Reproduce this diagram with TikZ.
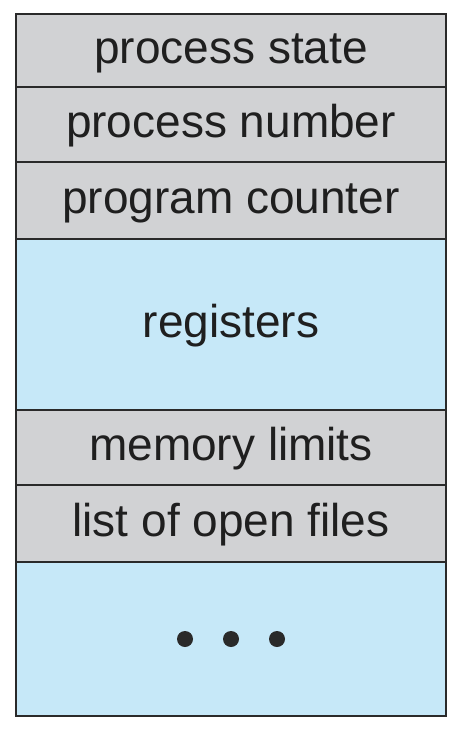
\documentclass[tikz,border=0pt]{standalone}
\usepackage{fontspec}
\setmainfont{Liberation Sans}
\usetikzlibrary{positioning}
\definecolor{pcbgray}{HTML}{D1D2D4}
\definecolor{pcbblue}{HTML}{C6E8F8}
\definecolor{pcbline}{HTML}{2A2A2A}
\tikzset{
	field/.style={draw=pcbline, line width=2.4pt, minimum width=430pt, inner sep=0pt, outer sep=0pt,
		text height=33pt, text depth=7pt, text=black!88, font=\fontsize{46}{50}\selectfont},
	grayfield/.style={field, fill=pcbgray},
	bluefield/.style={field, fill=pcbblue}
}
\begin{document}
\begin{tikzpicture}[x=1pt, y=-1pt, node distance=0pt]
		%%%%% START %%%%%
		
		\useasboundingbox (0, 0) rectangle (463, 730);
		
		\node[grayfield, minimum height=73pt, anchor=north] (state) at (231, 14) {process state};
		\node[grayfield, minimum height=75pt, below=of state] (number) {process number};
		\node[grayfield, minimum height=77pt, below=of number] (counter) {program counter};
		\node[bluefield, minimum height=171pt, below=of counter] (registers) {registers};
		\node[grayfield, minimum height=75pt, below=of registers] (limits) {memory limits};
		\node[grayfield, minimum height=77pt, below=of limits] (files) {list of open files};
		\node[bluefield, minimum height=154pt, below=of files] (more) {};
		
		\foreach \dx in {-46, 0, 46}
			\fill[pcbline] ([xshift=\dx pt]more.center) circle (8);
		
		\draw[pcbline, line width=2.8pt] (state.north west) rectangle (more.south east);
		
		%%%%% END %%%%%
	\end{tikzpicture}
\end{document}
